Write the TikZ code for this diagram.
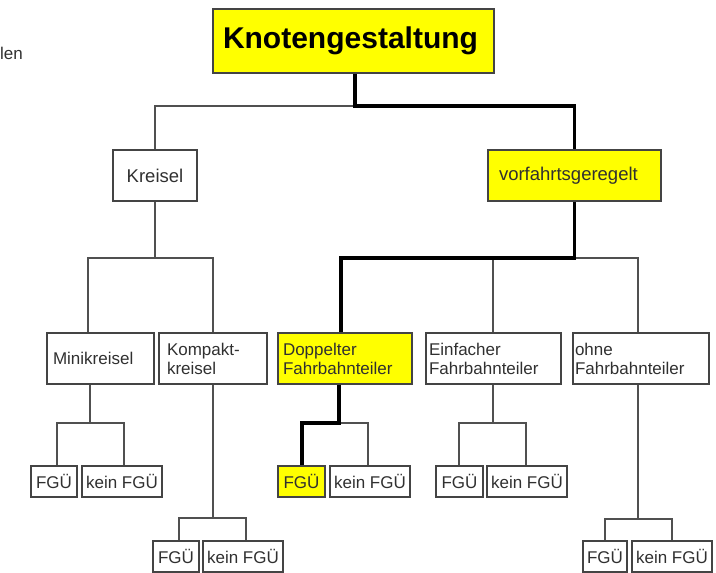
\documentclass[tikz,border=0pt]{standalone}
\usepackage{fontspec}
\setmainfont{Liberation Sans}
\definecolor{boxyellow}{HTML}{FFFF00}
\definecolor{edgegray}{HTML}{444444}
\definecolor{txtgray}{HTML}{303030}
\definecolor{lngray}{HTML}{505050}
\begin{document}
\begin{tikzpicture}[x=1pt,y=-1pt,
  bx/.style={draw=edgegray,line width=1.7pt,inner ysep=0pt,text=txtgray,
     font=\fontsize{17}{19}\selectfont,minimum height=51pt},
  lbox/.style={bx,align=left},
  leaf/.style={bx,minimum height=31pt,inner xsep=0pt,align=center},
  hl/.style={fill=boxyellow},
  thinln/.style={draw=lngray,line width=1.7pt},
  thickln/.style={draw=black,line width=3.5pt,line join=miter}]
\useasboundingbox (0,0) rectangle (716,573);
% fragment at left edge
\node[anchor=west,inner sep=0pt,text=txtgray,font=\fontsize{17}{19}\selectfont] (frag) at (0,53) {len};
% root
\node[bx,hl,minimum height=64pt,inner xsep=10pt,text width=261pt,align=left,text=black,
  font=\fontsize{30}{32}\selectfont\bfseries] (knoten) at (353.5,41) {Knotengestaltung};
% level 2
\node[bx,minimum width=84pt,font=\fontsize{18.5}{20}\selectfont,align=center] (kreisel) at (155,175.5) {Kreisel};
\node[bx,hl,inner xsep=11pt,text width=151pt,align=left,font=\fontsize{18.5}{20}\selectfont] (vorf) at (574.5,175.5) {vorfahrtsgeregelt};
% level 3
\node[lbox,inner xsep=6pt,text width=95pt] (mini) at (100.5,358.5) {Minikreisel};
\node[lbox,inner xsep=8pt,text width=92pt] (kompakt) at (213,358.5) {Kompakt-\\kreisel};
\node[lbox,hl,inner xsep=5pt,text width=124pt] (doppelt) at (345,358.5) {Doppelter\\Fahrbahnteiler};
\node[lbox,inner xsep=3pt,text width=129pt] (einf) at (493.5,358.5) {Einfacher\\Fahrbahnteiler};
\node[lbox,inner xsep=2pt,text width=132pt] (ohne) at (641,358.5) {ohne\\Fahrbahnteiler};
% leaves
\node[leaf,minimum width=46pt] (mfgu) at (54,481.5) {FGÜ};
\node[leaf,minimum width=80pt] (mkein) at (122,481.5) {kein FGÜ};
\node[leaf,minimum width=46pt] (kfgu) at (176,556.5) {FGÜ};
\node[leaf,minimum width=80pt] (kkein) at (243,556.5) {kein FGÜ};
\node[leaf,hl,minimum width=47pt] (dfgu) at (301.5,481.5) {FGÜ};
\node[leaf,minimum width=80pt] (dkein) at (370,481.5) {kein FGÜ};
\node[leaf,minimum width=47pt] (efgu) at (459.5,481.5) {FGÜ};
\node[leaf,minimum width=80pt] (ekein) at (527,481.5) {kein FGÜ};
\node[leaf,minimum width=44pt] (ofgu) at (605,556.5) {FGÜ};
\node[leaf,minimum width=80pt] (okein) at (672,556.5) {kein FGÜ};
% connectors root
\draw[thinln] ([xshift=1.5pt]knoten.south) -- ++(0,32) coordinate (j0) -| (kreisel.north);
\draw[thickln] ([xshift=1.5pt]knoten.south) -- (j0) -| (vorf.north);
% Kreisel
\draw[thinln] (kreisel.south) -- ++(0,56) coordinate (j1) -| ([xshift=42pt]mini.north west);
\draw[thinln] (j1) -| (kompakt.north);
% vorfahrtsgeregelt
\draw[thinln] (vorf.south) -- ++(0,56) coordinate (j2) -| ([xshift=68pt]einf.north west);
\draw[thinln] (j2) -| ([xshift=66pt]ohne.north west);
\draw[thickln] (vorf.south) -- (j2) -| ([xshift=64pt]doppelt.north west);
% Minikreisel
\draw[thinln] ([xshift=44pt]mini.south west) -- ++(0,38) coordinate (j3) -| ([xshift=27pt]mfgu.north west);
\draw[thinln] (j3) -| ([xshift=43pt]mkein.north west);
% Kompaktkreisel
\draw[thinln] (kompakt.south) -- ++(0,133) coordinate (j4) -| ([xshift=27pt]kfgu.north west);
\draw[thinln] (j4) -| ([xshift=44pt]kkein.north west);
% Doppelter
\draw[thinln] ([xshift=62pt]doppelt.south west) -- ++(0,38) coordinate (j5) -| ([xshift=39pt]dkein.north west);
\draw[thickln] ([xshift=62pt]doppelt.south west) -- (j5) -| ([xshift=25pt]dfgu.north west);
% Einfacher
\draw[thinln] ([xshift=68pt]einf.south west) -- ++(0,38) coordinate (j6) -| ([xshift=24pt]efgu.north west);
\draw[thinln] (j6) -| ([xshift=40pt]ekein.north west);
% ohne
\draw[thinln] ([xshift=66pt]ohne.south west) -- ++(0,134) coordinate (j7) -| ([xshift=23pt]ofgu.north west);
\draw[thinln] (j7) -| ([xshift=41pt]okein.north west);
\end{tikzpicture}
\end{document}
